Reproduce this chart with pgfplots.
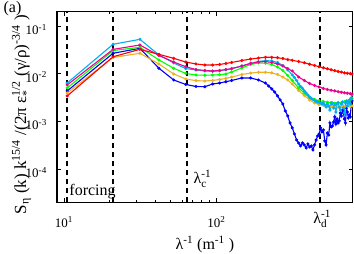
\documentclass[border=0pt]{standalone}
\usepackage{pgfplots}
\pgfplotsset{compat=1.18}
\usepackage{pgfplotstable}
\usepackage{amsmath}
\usepackage{fontspec}
\setmainfont{Liberation Serif}
\definecolor{morange}{RGB}{237,177,32}

\pgfplotstableread{
x red mag green orange
10.5 0.00341 0.00580 0.00502 0.00394
21 0.0227 0.0324 0.0306 0.0219
31.5 0.0324 0.0400 0.0358 0.0268
42 0.0255 0.0241 0.0194 0.0160
52.5 0.0210 0.0176 0.0130 0.00986
63 0.0176 0.0140 0.0101 0.00774
73.5 0.0160 0.0122 0.00939 0.00714
84 0.0152 0.0117 0.00927 0.00703
94.5 0.0152 0.0114 0.00939 0.00720
105 0.0156 0.0117 0.00952 0.00756
115.5 0.0164 0.0122 0.00986 0.00794
126 0.0172 0.0128 0.0109 0.00853
147 0.0189 0.0145 0.0132 0.00962
168 0.0203 0.0164 0.0156 0.0103
189 0.0213 0.0176 0.0168 0.0107
210 0.0221 0.0180 0.0166 0.0107
231 0.0221 0.0172 0.0156 0.0104
252 0.0217 0.0160 0.0138 0.00962
273 0.0208 0.0145 0.0117 0.00853
294 0.0198 0.0128 0.00917 0.00738
315 0.0191 0.0114 0.00720 0.00608
346.5 0.0180 0.00853 0.00502 0.00444
378 0.0170 0.00720 0.00394 0.00349
409.5 0.0158 0.00623 0.00317 0.00281
441 0.0149 0.00566 0.00288 0.00243
472.5 0.0140 0.00526 0.00272 0.00224
504 0.0133 0.00490 0.00261 0.00216
535.5 0.0127 0.00467 0.00252 0.00210
567 0.0121 0.00448 0.00249 0.00203
598.5 0.0116 0.00434 0.00240 0.00202
630 0.0111 0.00420 0.00248 0.00198
661.5 0.0108 0.00408 0.00243 0.00204
693 0.0104 0.00398 0.00258 0.00200
724.5 0.0102 0.00390 0.00265 0.00209
756 0.0100 0.00383 0.00281 0.00205
777 0.00986 0.00375 0.00302 0.00212
}\tmain

\pgfplotstableread{
x cyan
10.5 0.00638
21 0.0414
31.5 0.0526
42 0.0247
52.5 0.0168
63 0.0128
73.5 0.0120
84 0.0114
94.5 0.0112
105 0.0115
115.5 0.0121
126 0.0127
147 0.0145
168 0.0166
189 0.0180
210 0.0188
231 0.0185
252 0.0172
273 0.0149
294 0.0120
315 0.00939
325.5 0.00832
336 0.00720
346.5 0.00608
357 0.00539
367.5 0.00490
378 0.00434
388.5 0.00394
399 0.00358
409.5 0.00325
420 0.00302
430.5 0.00288
441 0.00274
451.5 0.00261
462 0.00255
472.5 0.00249
483 0.00243
493.5 0.00232
504 0.00243
514.5 0.00221
525 0.00200
535.5 0.00232
546 0.00210
556.5 0.00173
567 0.00232
577.5 0.00243
588 0.00191
598.5 0.00221
609 0.00157
619.5 0.00232
630 0.00243
640.5 0.00200
651 0.00173
661.5 0.00232
672 0.00255
682.5 0.00191
693 0.00150
703.5 0.00243
714 0.00268
724.5 0.00210
735 0.00243
745.5 0.00281
756 0.00232
766.5 0.00309
777 0.00358
}\tcyan

\pgfplotstableread{
x blue
10.5 0.00434
21 0.0268
31.5 0.0341
42 0.0130
52.5 0.00738
63 0.00594
73.5 0.00539
84 0.00532
94.5 0.00608
105 0.00638
115.5 0.00680
126 0.00720
147 0.00813
168 0.00813
189 0.00738
210 0.00638
220.5 0.00552
231 0.00478
241.5 0.00413
252 0.00341
262.5 0.00281
273 0.00232
283.5 0.00165
294 0.00130
304.5 0.000925
315 0.000727
325.5 0.000544
336 0.000407
346.5 0.000352
357 0.000305
367.5 0.000352
378 0.000320
388.5 0.000277
399 0.000336
409.5 0.000290
420 0.000305
430.5 0.000251
441 0.000320
451.5 0.000407
462 0.000494
472.5 0.000544
483 0.000727
493.5 0.000599
504 0.000660
514.5 0.000388
525 0.000320
535.5 0.000571
546 0.000518
556.5 0.000925
567 0.000763
577.5 0.000801
588 0.000971
598.5 0.00124
609 0.000882
619.5 0.00112
630 0.000925
640.5 0.00102
651 0.00150
661.5 0.00130
672 0.00173
682.5 0.00150
693 0.00112
703.5 0.000925
714 0.00191
724.5 0.00157
735 0.00118
745.5 0.00136
756 0.00124
766.5 0.00210
777 0.00268
}\tblue

\begin{document}
\begin{tikzpicture}
\begin{axis}[
  at={(57pt,51.7pt)}, anchor=south west,
  scale only axis, width=295.7pt, height=190.6pt,
  xmode=log, ymode=log,
  xmin=9, xmax=785, ymin=2e-5, ymax=0.2,
  axis line style={line width=1.1pt},
  tick align=inside,
  major tick length=4pt, minor tick length=2.5pt,
  every tick/.style={black, line width=0.8pt},
  xtick={10,100}, xticklabels={10\textsuperscript{1},10\textsuperscript{2}},
  ytick={1e-4,1e-3,1e-2,1e-1},
  yticklabels={10\textsuperscript{-4},10\textsuperscript{-3},10\textsuperscript{-2},10\textsuperscript{-1}},
  yminorticks=false,
  ticklabel style={font=\fontsize{13}{15}\selectfont, inner sep=0pt},
  xticklabel style={anchor=base, yshift=-25pt},
  yticklabel style={anchor=base east, xshift=-10pt, yshift=-8.5pt},
  xlabel={λ\textsuperscript{-1} (m\textsuperscript{-1} )},
  xlabel style={at={(axis description cs:0.5,-0.222)}, anchor=center, inner sep=0pt, font=\fontsize{16}{19}\selectfont},
  ylabel={S$_{\text{η}}$ (k) k$^{\text{15/4}}$ /(2π ε$^{\text{1/2}}_{\text{*}}$ (γ/ρ)$^{\text{-3/4}}$ )},
  ylabel style={at={(axis description cs:-0.12,0.46)}, anchor=center, inner sep=0pt, font=\fontsize{17}{20}\selectfont},
  clip=false,
  every axis plot/.append style={line width=1.1pt, mark=*, mark size=0.95pt},
]
\addplot[blue] table[x=x, y=blue] {\tblue};
\addplot[morange] table[x=x, y=orange] {\tmain};
\addplot[green] table[x=x, y=green] {\tmain};
\addplot[cyan] table[x=x, y=cyan] {\tcyan};
\addplot[magenta] table[x=x, y=mag] {\tmain};
\addplot[red] table[x=x, y=red] {\tmain};

\addplot[black, line width=1.7pt, dash pattern=on 5.5pt off 3.5pt, no marks] coordinates {(10.5,2e-5) (10.5,0.2)};
\addplot[black, line width=1.7pt, dash pattern=on 5.5pt off 3.5pt, no marks] coordinates {(21,2e-5) (21,0.2)};
\addplot[black, line width=1.7pt, dash pattern=on 5.5pt off 3.5pt, no marks] coordinates {(64.4,2e-5) (64.4,0.2)};
\addplot[black, line width=1.7pt, dash pattern=on 5.5pt off 3.5pt, no marks] coordinates {(478,2e-5) (478,0.2)};

\node[font=\fontsize{16}{19}\selectfont, anchor=center, inner sep=0pt] at (axis cs:15.4,3.3e-5) {forcing};
\node[font=\fontsize{16}{19}\selectfont, anchor=west, inner sep=0pt] at (axis cs:70.8,6.2e-5) {λ$^{\text{-1}}_{\text{c}}$};
\node[font=\fontsize{16}{19}\selectfont, anchor=west, inner sep=0pt, yshift=-16.7pt] at (axis cs:432,2e-5) {λ$^{\text{-1}}_{\text{d}}$};
\node[font=\fontsize{16}{19}\selectfont, anchor=center, inner sep=0pt] at (axis description cs:-0.1505,1.017) {(a)};
\end{axis}
\pgfresetboundingbox
\path (0,0) rectangle (354pt,254pt);
\end{tikzpicture}
\end{document}
